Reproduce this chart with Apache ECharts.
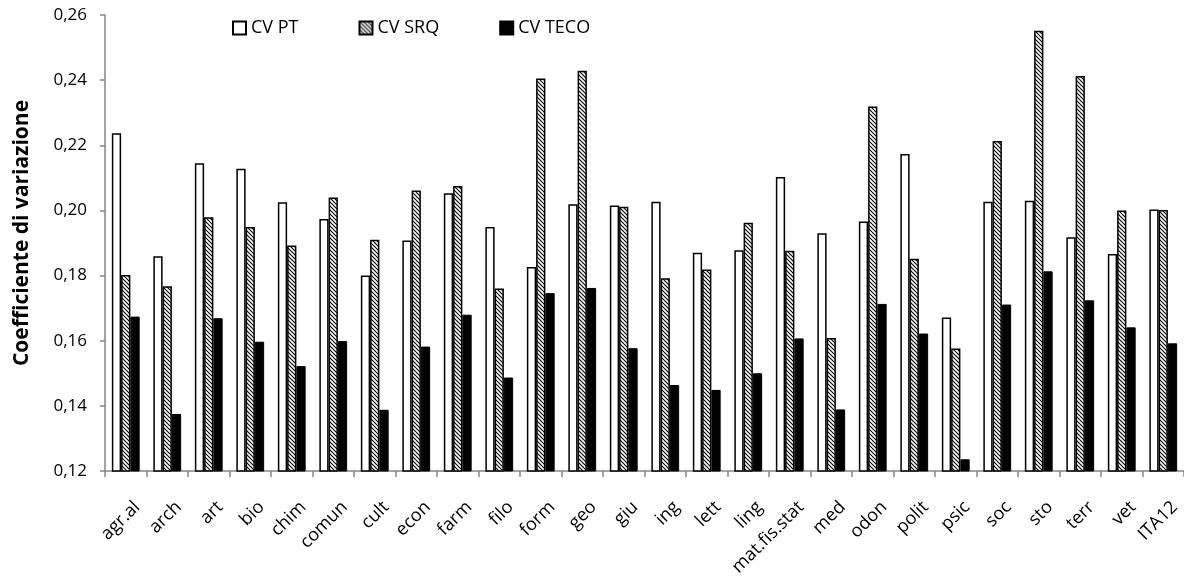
<!DOCTYPE html>
<html>
<head>
<meta charset="utf-8">
<script src="https://cdn.jsdelivr.net/npm/echarts@6/dist/echarts.min.js"></script>
<style>
html,body{margin:0;padding:0;background:#fff;}
#chart{width:1184px;height:580px;}
</style>
</head>
<body>
<div id="chart"></div>
<script>
const categories = ['agr.al','arch','art','bio','chim','comun','cult','econ','farm','filo','form','geo','giu','ing','lett','ling','mat.fis.stat','med','odon','polit','psic','soc','sto','terr','vet','ITA12'];
const cvPT   = [0.2237,0.1859,0.2145,0.2128,0.2025,0.1974,0.1800,0.1908,0.2053,0.1949,0.1826,0.2019,0.2015,0.2027,0.1870,0.1878,0.2103,0.1930,0.1966,0.2173,0.1671,0.2027,0.2030,0.1918,0.1866,0.2003];
const cvSRQ  = [0.1802,0.1767,0.1979,0.1949,0.1892,0.2040,0.1910,0.2061,0.2075,0.1760,0.2405,0.2429,0.2011,0.1792,0.1819,0.1962,0.1876,0.1608,0.2319,0.1852,0.1576,0.2213,0.2552,0.2413,0.2000,0.2001];
const cvTECO = [0.1674,0.1375,0.1669,0.1597,0.1522,0.1599,0.1388,0.1582,0.1680,0.1487,0.1746,0.1762,0.1577,0.1464,0.1449,0.1500,0.1607,0.1389,0.1713,0.1622,0.1236,0.1711,0.1813,0.1724,0.1641,0.1592];
const seriesNames = ['CV PT','CV SRQ','CV TECO'];
const yTicks = {min:0.12, max:0.26, step:0.02};

function hatch(){
  const s = 4;
  const c = document.createElement('canvas');
  c.width = s; c.height = s;
  const g = c.getContext('2d');
  g.fillStyle = '#fff'; g.fillRect(0,0,s,s);
  g.strokeStyle = '#000'; g.lineWidth = 1.1;
  g.beginPath();
  g.moveTo(-1,-1); g.lineTo(s+1,s+1);
  g.moveTo(s-1,-1); g.lineTo(s+1,1);
  g.moveTo(-1,s-1); g.lineTo(1,s+1);
  g.stroke();
  return c;
}

const FONT = '"Open Sans", "Liberation Sans", sans-serif';
const chart = echarts.init(document.getElementById('chart'), null, {renderer:'canvas'});
chart.setOption({
  backgroundColor:'#fff',
  animation:false,
  textStyle:{fontFamily:FONT},
  legend:{
    left:232, top:19, padding:0, itemWidth:13, itemHeight:13, itemGap:60,
    icon:'rect',
    textStyle:{fontSize:18, color:'#000', fontFamily:FONT},
    data:seriesNames
  },
  grid:{left:105, top:15, width:1082, height:456, containLabel:false},
  xAxis:{
    type:'category', data:categories,
    axisLine:{lineStyle:{color:'#868686', width:1.5}},
    axisTick:{show:true, length:6, lineStyle:{color:'#868686', width:1.5}},
    axisLabel:{rotate:45, interval:0, margin:22, fontSize:18, color:'#000', fontFamily:FONT,
      verticalAlign:'top', padding:[7,0,0,0]},
    splitLine:{show:false}
  },
  yAxis:{
    type:'value', min:yTicks.min, max:yTicks.max, interval:yTicks.step,
    name:'Coefficiente di variazione', nameLocation:'middle', nameRotate:90, nameGap:72,
    nameTextStyle:{fontSize:21, fontWeight:'bold', color:'#000', fontFamily:FONT, padding:[0,0,0,20]},
    axisLine:{show:true, lineStyle:{color:'#868686', width:1.5}},
    axisTick:{show:true, length:5, lineStyle:{color:'#868686', width:1.5}},
    axisLabel:{margin:18, fontSize:17, color:'#000', fontFamily:FONT,
      formatter:v=>v.toFixed(2).replace('.',',')},
    splitLine:{show:false}
  },
  series:[
    {name:seriesNames[0], type:'bar', data:cvPT, barGap:'0%', barCategoryGap:'33%',
     itemStyle:{color:'#fff', borderColor:'#000', borderWidth:1.5}},
    {name:seriesNames[1], type:'bar', data:cvSRQ, barGap:'0%', barCategoryGap:'33%',
     itemStyle:{color:{image:hatch(), repeat:'repeat'}, borderColor:'#000', borderWidth:1.5}},
    {name:seriesNames[2], type:'bar', data:cvTECO, barGap:'0%', barCategoryGap:'33%',
     itemStyle:{color:'#000', borderColor:'#000', borderWidth:1}}
  ]
});
</script>
</body>
</html>
